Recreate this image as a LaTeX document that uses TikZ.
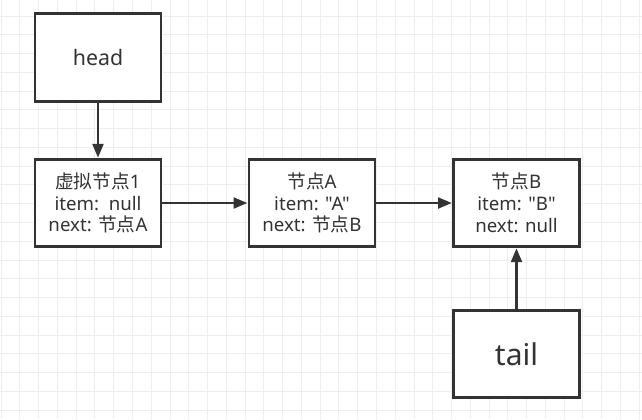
\documentclass[tikz,border=0pt]{standalone}
\usepackage{fontspec}
\setmainfont{Noto Sans}[Ligatures=TeXOff]
\newfontfamily\cjk{Noto Sans CJK SC}
\usetikzlibrary{arrows.meta}
\definecolor{linegray}{HTML}{333333}
\definecolor{gridgray}{HTML}{EEEEEE}
\tikzset{
  box/.style={draw=linegray, line width=2.2pt, fill=white, text=linegray,
    minimum width=94.5pt, minimum height=65.5pt, inner sep=0pt, align=center},
  small/.style={font=\fontsize{14pt}{16.3pt}\selectfont},
  link/.style={draw=linegray, line width=2.2pt, -{Triangle[length=10.5pt,width=8pt]}}
}
\begin{document}
\begin{tikzpicture}[x=0.75pt,y=-0.75pt]

\useasboundingbox[fill=white] (0,0) rectangle (642,419);

\foreach \i in {0,...,34} \draw[gridgray, line width=0.75pt] (1.07+18.77*\i,0) -- (1.07+18.77*\i,419);
\foreach \j in {1,...,23} \draw[gridgray, line width=0.75pt] (0,-2.77+18.77*\j) -- (642,-2.77+18.77*\j);

\node[box, font=\fontsize{16pt}{20pt}\selectfont] (head) at (98,57.5) {head};
\node[box, small] (dummy) at (98,203) {{\cjk 虚拟节点}1\\item:~~null\\next: {\cjk 节点}A};
\node[box, small] (nodeA) at (312,203) {{\cjk 节点}A\\item: "A"\\next: {\cjk 节点}B};
\node[box, small] (nodeB) at (516.5,203) {{\cjk 节点}B\\item: "B"\\next: null};
\node[box, font=\fontsize{22.5pt}{26pt}\selectfont] (tail) at (516.5,354) {tail};

\draw[link] (head) -- (dummy);
\draw[link] (dummy) -- (nodeA);
\draw[link] (nodeA) -- (nodeB);
\draw[link] (tail) -- (nodeB);

\end{tikzpicture}
\end{document}
